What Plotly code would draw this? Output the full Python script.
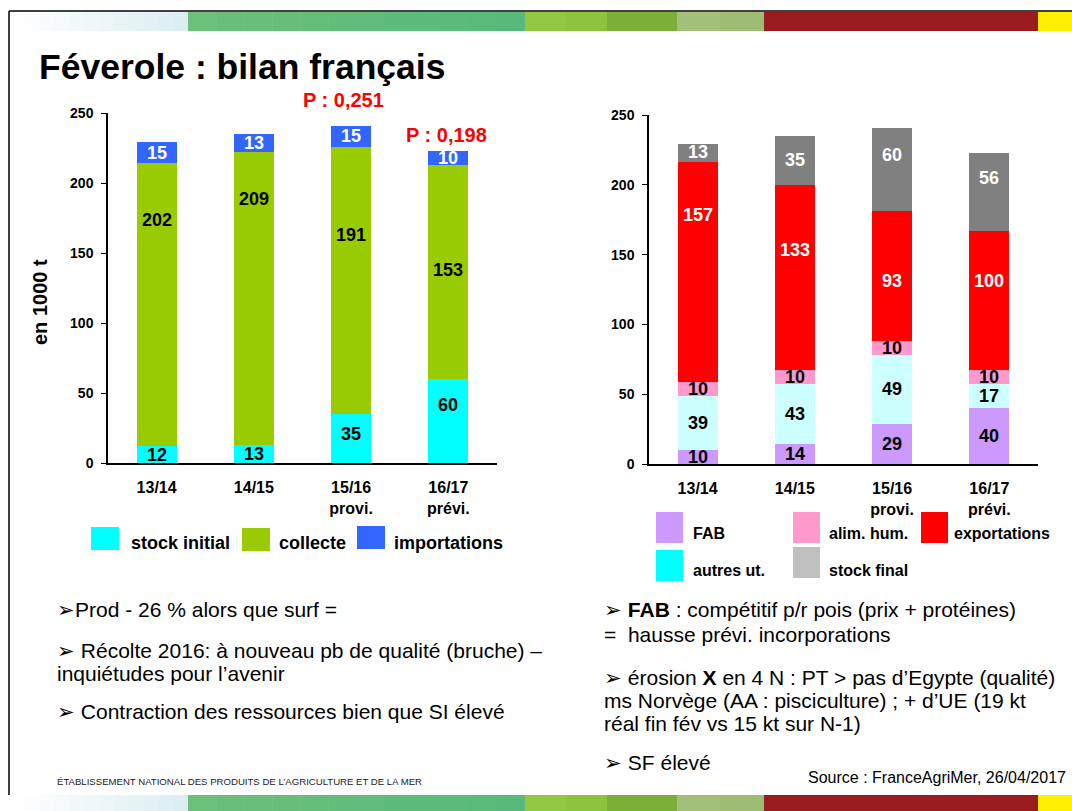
import plotly.graph_objects as go

W, H = 1072, 811

# ---- data -------------------------------------------------------------
seasons = ["13/14", "14/15", "15/16", "16/17"]
season_ticks = ["13/14", "14/15", "15/16<br>provi.", "16/17<br>prévi."]

# ressources (1000 t)
stock_initial = [12, 13, 35, 60]
collecte = [202, 209, 191, 153]
importations = [15, 13, 15, 10]

# emplois (1000 t)
fab = [10, 14, 29, 40]
autres_ut = [39, 43, 49, 17]
alim_hum = [10, 10, 10, 10]
exportations = [157, 133, 93, 100]
stock_final = [13, 35, 60, 56]

prix_labels = ["", "", "P : 0,251", "P : 0,198"]

y_ticks = [0, 50, 100, 150, 200, 250]

# ---- styling ----------------------------------------------------------
FONT = "Liberation Sans, Arial, sans-serif"
NARROW = "Liberation Sans Narrow, Arial Narrow, Liberation Sans, sans-serif"

# where inside each segment the value label sits (0 = bottom, 1 = top)
left_label_frac = {
    "stock initial": [0.5, 0.5, 0.59, 0.69],
    "collecte": [0.80, 0.84, 0.67, 0.51],
    "importations": [0.5, 0.5, 0.5, 0.5],
}
right_label_frac = {
    "FAB": [0.5, 0.5, 0.5, 0.5],
    "autres ut.": [0.5, 0.5, 0.5, 0.5],
    "alim. hum.": [0.5, 0.5, 0.5, 0.5],
    "exportations": [0.76, 0.65, 0.46, 0.64],
    "stock final": [0.55, 0.5, 0.67, 0.68],
}

left_series = [
    ("stock initial", stock_initial, "#00FFFF", "black"),
    ("collecte", collecte, "#99CC00", "black"),
    ("importations", importations, "#3366FF", "white"),
]
right_series = [
    ("FAB", fab, "#CC99FF", "black"),
    ("autres ut.", autres_ut, "#CCFFFF", "black"),
    ("alim. hum.", alim_hum, "#FF99CC", "black"),
    ("exportations", exportations, "#FF0000", "white"),
    ("stock final", stock_final, "#808080", "white"),
]


def px(x):
    return x / W


def py(y):
    return 1 - y / H


fig = go.Figure()
annotations = []
shapes = []


def add_stack(series, fracs, xa, ya):
    base = [0] * len(seasons)
    for name, vals, color, txt_color in series:
        fig.add_trace(go.Bar(
            x=seasons, y=vals, name=name, xaxis=xa, yaxis=ya,
            marker=dict(color=color, line=dict(width=0)),
            width=0.41, showlegend=False,
        ))
        for i, v in enumerate(vals):
            annotations.append(dict(
                x=seasons[i], y=base[i] + v * fracs[name][i],
                xref=xa, yref=ya, text=f"<b>{v}</b>", showarrow=False,
                xanchor="center", yanchor="middle",
                font=dict(family=FONT, size=18, color=txt_color),
            ))
            base[i] += v
    return base


left_totals = add_stack(left_series, left_label_frac, "x", "y")
add_stack(right_series, right_label_frac, "x2", "y2")

# prix annotations above the last two ressources bars
price_shift = [(0, 0), (0, 0), (-8, 13), (-2, 3)]
for i, lab in enumerate(prix_labels):
    if lab:
        annotations.append(dict(
            x=seasons[i], y=left_totals[i], xref="x", yref="y",
            text=f"<b>{lab}</b>", showarrow=False,
            xanchor="center", yanchor="bottom",
            xshift=price_shift[i][0], yshift=price_shift[i][1],
            font=dict(family=FONT, size=20, color="#FF0000"),
        ))

# ---- axes -------------------------------------------------------------
x_common = dict(
    type="category", range=[-0.5, 3.5], tickmode="array",
    tickvals=seasons, ticktext=season_ticks, ticks="",
    showgrid=False, zeroline=False, showline=True, automargin=False,
    linecolor="black", linewidth=1.5, ticklabelstandoff=9,
    tickfont=dict(family=FONT, size=16, color="black", weight="bold"),
)
y_common = dict(
    range=[0, 250], tickmode="array", tickvals=y_ticks,
    ticks="outside", ticklen=5, tickwidth=1, tickcolor="black",
    showgrid=False, zeroline=False, showline=True, automargin=False,
    linecolor="black", linewidth=1.5, ticklabelstandoff=5,
    tickfont=dict(family=FONT, size=14, color="black", weight="bold"),
)

fig.update_layout(
    xaxis=dict(x_common, domain=[px(108), px(497)], anchor="y"),
    yaxis=dict(y_common, domain=[py(463), py(113)], anchor="x"),
    xaxis2=dict(x_common, domain=[px(649), px(1038)], anchor="y2"),
    yaxis2=dict(y_common, domain=[py(464), py(115)], anchor="x2"),
)


def text_at(x, y, text, size, anchor="left", family=FONT, color="black", angle=0):
    annotations.append(dict(
        x=px(x), y=py(y), xref="paper", yref="paper", text=text,
        xanchor=anchor, yanchor="middle", showarrow=False, textangle=angle,
        font=dict(family=family, size=size, color=color),
    ))


text_at(40, 302, "<b>en 1000 t</b>", 20, anchor="center", angle=-90)

# ---- title -----------------------------------------------------------
text_at(37, 67, "<b>Féverole : bilan français</b>", 35.5)

# ---- legends (drawn as swatches + labels) -----------------------------
left_legend = [
    ("stock initial", "#00FFFF", 91, 527, 129, 543),
    ("collecte", "#99CC00", 242, 528, 277, 543),
    ("importations", "#3366FF", 357, 526, 392, 543),
]
right_legend = [
    ("FAB", "#CC99FF", 656, 512, 691, 533),
    ("alim. hum.", "#FF99CC", 793, 512, 827, 533),
    ("exportations", "#FF0000", 921, 512, 952, 533),
    ("autres ut.", "#00FFFF", 656, 550, 691, 570),
    ("stock final", "#C0C0C0", 793, 547, 827, 570),
]
for name, color, sx, sy, tx, ty in left_legend:
    shapes.append(dict(type="rect", xref="paper", yref="paper",
                       x0=px(sx), x1=px(sx + 28), y0=py(sy + 23), y1=py(sy),
                       fillcolor=color, line=dict(width=0)))
    text_at(tx, ty, f"<b>{name}</b>", 18)
for name, color, sx, sy, tx, ty in right_legend:
    shapes.append(dict(type="rect", xref="paper", yref="paper",
                       x0=px(sx), x1=px(sx + 27), y0=py(sy + 31), y1=py(sy),
                       fillcolor=color, line=dict(width=0)))
    text_at(tx, ty, f"<b>{name}</b>", 16)

# ---- commentary text --------------------------------------------------
left_notes = [
    (55, 609, "➢Prod - 26 % alors que surf ="),
    (55, 650, "➢ Récolte 2016: à nouveau pb de qualité (bruche) –"),
    (55, 673, "inquiétudes pour l’avenir"),
    (55, 711, "➢ Contraction des ressources bien que SI élevé"),
]
right_notes = [
    (602, 609, "➢ <b>FAB</b> : compétitif p/r pois (prix + protéines)"),
    (602, 634, "=  hausse prévi. incorporations"),
    (602, 677, "➢ érosion <b>X</b> en 4 N : PT > pas d’Egypte (qualité)"),
    (602, 700, "ms Norvège (AA : pisciculture) ; + d’UE (19 kt"),
    (602, 723, "réal fin fév vs 15 kt sur N-1)"),
    (602, 762, "➢ SF élevé"),
]
for x, y, t in left_notes + right_notes:
    text_at(x, y, t, 21)

text_at(55, 781, "ÉTABLISSEMENT NATIONAL DES PRODUITS DE L’AGRICULTURE ET DE LA MER",
        9.6, family=NARROW, color="#222222")
text_at(1068, 777, "Source : FranceAgriMer, 26/04/2017", 16, anchor="right", family=NARROW)


# ---- decorative bands and frame --------------------------------------
def gradient_band(x0, x1, y0, y1, c0, c1, steps=12):
    def hx(c):
        return [int(c[i:i + 2], 16) for i in (1, 3, 5)]
    a, b = hx(c0), hx(c1)
    for k in range(steps):
        t = k / (steps - 1) if steps > 1 else 0.0
        col = "#%02X%02X%02X" % tuple(round(a[j] + (b[j] - a[j]) * t) for j in range(3))
        xs = x0 + (x1 - x0) * k / steps
        xe = x0 + (x1 - x0) * (k + 1) / steps
        shapes.append(dict(type="rect", xref="paper", yref="paper",
                           x0=px(xs), x1=px(min(xe + 0.5, W)), y0=py(y1), y1=py(y0),
                           fillcolor=col, line=dict(width=0), layer="below"))


def band(y0, y1):
    gradient_band(10, 188, y0, y1, "#FFFFFF", "#DCEEF1")
    gradient_band(188, 525, y0, y1, "#6BC07A", "#57BA7A")
    gradient_band(525, 607, y0, y1, "#92C841", "#8CC43E", steps=2)
    gradient_band(607, 677, y0, y1, "#7BB038", "#7BB038", steps=1)
    gradient_band(677, 764, y0, y1, "#A3C07B", "#9EBD72", steps=2)
    gradient_band(764, 1038, y0, y1, "#9A1B20", "#9A1B20", steps=1)
    gradient_band(1038, W, y0, y1, "#FFF000", "#FFF000", steps=1)


band(12, 31)
band(795, H)

shapes.append(dict(type="line", xref="paper", yref="paper",
                   x0=px(9), x1=1, y0=py(11), y1=py(11),
                   line=dict(color="black", width=1.5)))
shapes.append(dict(type="line", xref="paper", yref="paper",
                   x0=px(9), x1=px(9), y0=py(11), y1=py(795),
                   line=dict(color="black", width=1.5)))

fig.update_layout(
    width=W, height=H,
    margin=dict(l=0, r=0, t=0, b=0, pad=0, autoexpand=False),
    paper_bgcolor="white", plot_bgcolor="white",
    barmode="stack", showlegend=False,
    annotations=annotations, shapes=shapes,
    font=dict(family=FONT, color="black"),
)

fig.write_html("out.html", config={"displayModeBar": False})
